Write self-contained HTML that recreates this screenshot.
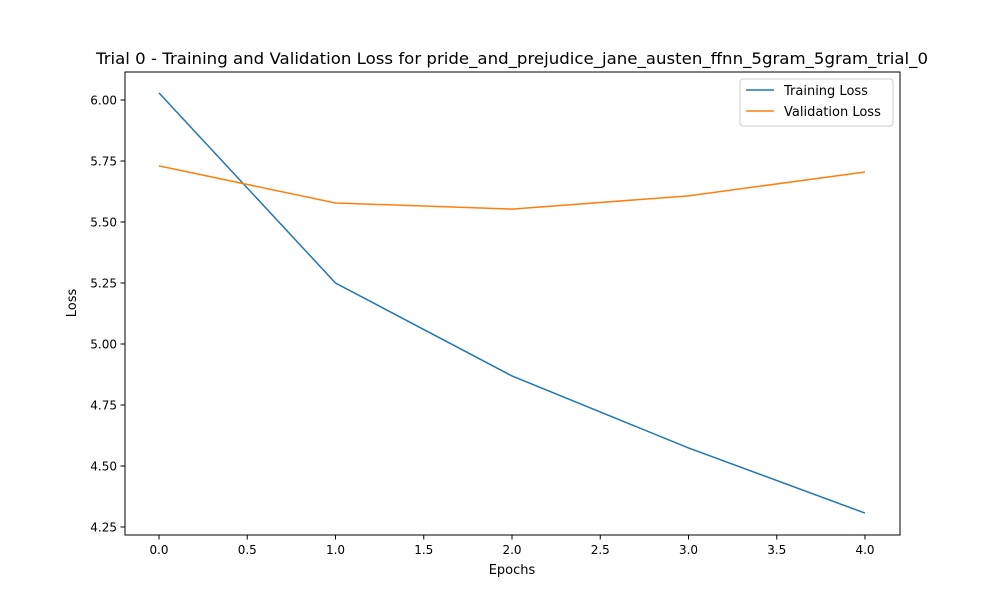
<!DOCTYPE html>
<html><head><meta charset="utf-8"><style>
body{margin:0;background:#fff;font-family:"Liberation Sans","DejaVu Sans",sans-serif;}
svg text{font-family:"DejaVu Sans","Liberation Sans",sans-serif;}
</style></head><body>
<svg id="chart" width="1000" height="600" xmlns="http://www.w3.org/2000/svg">
<rect width="1000" height="600" fill="#fff"/>
<text x="512" y="64" text-anchor="middle" font-size="16" textLength="832" lengthAdjust="spacingAndGlyphs">Trial 0 - Training and Validation Loss for pride_and_prejudice_jane_austen_ffnn_5gram_5gram_trial_0</text>
<g id="axes"></g>
<g id="series"></g>
<rect x="125" y="72" width="775" height="463" fill="none" stroke="#000" stroke-width="1"/>
<text x="512" y="574" text-anchor="middle" font-size="13">Epochs</text>
<text x="76" y="303" text-anchor="middle" font-size="13" transform="rotate(-90 76 303)">Loss</text>
<g>
<rect x="740" y="79" width="153" height="47" fill="#fff" stroke="#ccc" rx="3"/>
<line x1="746" y1="90" x2="774" y2="90" stroke="#1f77b4" stroke-width="1.5"/>
<text x="784" y="95" font-size="13">Training Loss</text>
<line x1="746" y1="111" x2="774" y2="111" stroke="#ff7f0e" stroke-width="1.5"/>
<text x="784" y="116" font-size="13">Validation Loss</text>
</g>
</svg>
<script>
const epochs=[0,1,2,3,4];
const trainLoss=[6.029,5.250,4.869,4.574,4.307];
const valLoss=[5.730,5.578,5.553,5.607,5.705];
const xTicks=[0,0.5,1,1.5,2,2.5,3,3.5,4];
const yTicks=[4.25,4.5,4.75,5.0,5.25,5.5,5.75,6.0];
const NS="http://www.w3.org/2000/svg";
function xs(v){return 159+v*176.5;}
function ys(v){return 100+(6-v)*244;}
const axes=document.getElementById('axes');
function mk(t,a,p){const e=document.createElementNS(NS,t);for(const k in a)e.setAttribute(k,a[k]);p.appendChild(e);return e;}
xTicks.forEach(v=>{
 const l=mk('line',{x1:xs(v),x2:xs(v),y1:535,y2:539.5,stroke:'#000'},axes);
 
 
 const t=mk('text',{x:xs(v),y:554,'text-anchor':'middle','font-size':12},axes);t.textContent=v.toFixed(1);
 
 
});
yTicks.forEach(v=>{
 const l=mk('line',{x1:120.5,x2:125,y1:ys(v),y2:ys(v),stroke:'#000'},axes);
 
 
 const t=mk('text',{x:117,y:ys(v)+4.5,'text-anchor':'end','font-size':12},axes);t.textContent=v.toFixed(2);
 
 
});
const s=document.getElementById('series');
function line(d,c,n){
 const p=mk('polyline',{points:d.map((v,i)=>xs(epochs[i])+','+ys(v)).join(' '),fill:'none',stroke:c,'stroke-width':1.5},s);
 
 
}
line(trainLoss,'#1f77b4','training-loss-line');
line(valLoss,'#ff7f0e','validation-loss-line');
</script>
</body></html>
